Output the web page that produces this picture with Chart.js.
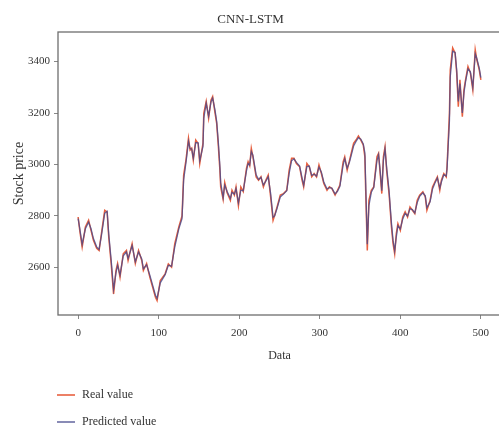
<!DOCTYPE html>
<html>
<head>
<meta charset="utf-8">
<script src="https://cdn.jsdelivr.net/npm/chart.js@4"></script>
<style>
  html, body { margin: 0; padding: 0; background: #fff; overflow: hidden; }
  #wrap { width: 503px; height: 428px; position: relative; }
</style>
</head>
<body>
<div id="wrap"><canvas id="chart"></canvas></div>
<script>
// sample positions (Data index)
const dataIndex = [0, 2, 5, 9, 13, 16, 19, 23, 26, 29, 33, 36, 38, 41, 44, 47, 49, 52, 56, 60, 62, 67, 71, 75, 79, 81, 85, 89, 96, 98,
  102, 108, 112, 116, 120, 125, 129, 131, 134, 137, 139, 141, 143, 146, 149, 151, 155, 156, 159, 162, 165, 167, 170, 172, 174, 176, 177, 180, 182, 185,
  189, 191, 194, 196, 199, 202, 205, 209, 211, 213, 215, 217, 221, 224, 227, 230, 233, 236, 239, 242, 244, 247, 251, 255, 259, 262, 265, 268, 271, 275,
  278, 280, 284, 287, 290, 293, 296, 299, 302, 305, 309, 312, 315, 319, 322, 325, 329, 331, 334, 337, 342, 345, 348, 351, 354, 356, 357, 359, 361, 364,
  367, 371, 373, 375, 377, 379, 381, 383, 386, 389, 391, 393, 395, 397, 400, 403, 406, 409, 412, 415, 418, 421, 424, 428, 431, 433, 437, 440, 443, 446,
  449, 451, 454, 457, 458, 461, 462, 465, 468, 470, 472, 474, 477, 479, 481, 484, 487, 490, 493, 495, 498, 500];

const realValue = [2796, 2744, 2679, 2757, 2783, 2744, 2705, 2674, 2666, 2733, 2822, 2816, 2718, 2615, 2497, 2588, 2615, 2562, 2653, 2666, 2627, 2692, 2615, 2666, 2627, 2588, 2615, 2562, 2484, 2471,
  2549, 2575, 2614, 2601, 2692, 2757, 2800, 2959, 3020, 3102, 3056, 3063, 3017, 3095, 3082, 3004, 3082, 3199, 3245, 3180, 3251, 3264, 3200, 3160, 3075, 2978, 2913, 2865, 2930, 2890,
  2861, 2900, 2881, 2913, 2840, 2913, 2895, 2985, 3011, 2995, 3063, 3030, 2952, 2939, 2952, 2913, 2939, 2959, 2874, 2783, 2803, 2835, 2881, 2887, 2900, 2978, 3024, 3024, 3004, 2991,
  2939, 2913, 3004, 2991, 2952, 2965, 2952, 2998, 2965, 2926, 2900, 2913, 2907, 2881, 2900, 2920, 3010, 3030, 2978, 3017, 3082, 3095, 3111, 3095, 3076, 3030, 2900, 2666, 2861, 2900,
  2913, 3030, 3043, 2965, 2887, 3030, 3069, 2978, 2887, 2757, 2692, 2653, 2731, 2770, 2744, 2796, 2816, 2796, 2835, 2822, 2809, 2861, 2881, 2894, 2874, 2822, 2861, 2913, 2933, 2952,
  2900, 2939, 2965, 2952, 2991, 3199, 3368, 3453, 3434, 3356, 3225, 3329, 3186, 3290, 3329, 3381, 3356, 3290, 3446, 3407, 3368, 3329];

const predictedValue = [2790, 2752, 2690, 2750, 2776, 2750, 2712, 2680, 2670, 2725, 2810, 2818, 2730, 2630, 2515, 2580, 2608, 2570, 2645, 2660, 2635, 2685, 2622, 2660, 2633, 2595, 2610, 2570, 2492, 2480,
  2540, 2572, 2608, 2605, 2680, 2750, 2790, 2940, 3010, 3090, 3062, 3060, 3025, 3085, 3084, 3015, 3070, 3180, 3238, 3188, 3244, 3258, 3210, 3168, 3090, 2995, 2930, 2872, 2920, 2895,
  2868, 2892, 2885, 2906, 2852, 2900, 2898, 2975, 3004, 2998, 3050, 3036, 2960, 2942, 2950, 2920, 2935, 2952, 2888, 2795, 2800, 2830, 2874, 2885, 2898, 2965, 3015, 3022, 3008, 2994,
  2948, 2920, 2992, 2994, 2958, 2962, 2955, 2990, 2970, 2932, 2905, 2910, 2908, 2886, 2896, 2915, 2998, 3022, 2986, 3010, 3072, 3090, 3104, 3098, 3080, 3045, 2930, 2690, 2840, 2892,
  2910, 3015, 3038, 2975, 2898, 3015, 3060, 2990, 2900, 2772, 2705, 2665, 2718, 2762, 2750, 2788, 2810, 2800, 2828, 2825, 2812, 2852, 2876, 2890, 2878, 2832, 2855, 2905, 2928, 2948,
  2908, 2932, 2960, 2955, 2982, 3170, 3340, 3440, 3436, 3368, 3245, 3315, 3200, 3278, 3322, 3372, 3360, 3300, 3430, 3412, 3375, 3338];

const xTicks = [0, 100, 200, 300, 400, 500];
const yTicks = [2600, 2800, 3000, 3200, 3400];

const seriesNames = ['Real value', 'Predicted value'];
const seriesColors = ['#e8603f', 'rgba(70,72,140,0.8)'];

const serif = "'Liberation Serif', 'DejaVu Serif', serif";
const textColor = '#333';

// frame around the plot area
const framePlugin = {
  id: 'frame',
  afterDatasetsDraw(chart) {
    const { ctx, chartArea: a } = chart;
    ctx.save();
    ctx.strokeStyle = '#6e6e6e';
    ctx.lineWidth = 1.3;
    ctx.strokeRect(a.left, a.top, a.right - a.left, a.bottom - a.top);
    ctx.restore();
  }
};

// legend stacked under the x axis, like the original figure
const stackedLegend = {
  id: 'stackedLegend',
  afterDraw(chart) {
    const ctx = chart.ctx;
    const rows = [395, 422];
    ctx.save();
    ctx.font = '12px ' + serif;
    ctx.textBaseline = 'middle';
    chart.data.datasets.forEach((ds, i) => {
      const y = rows[i];
      ctx.strokeStyle = ds.borderColor;
      ctx.lineWidth = 1.6;
      ctx.beginPath();
      ctx.moveTo(57, y);
      ctx.lineTo(75, y);
      ctx.stroke();
      ctx.fillStyle = textColor;
      ctx.fillText(ds.label, 82, y);
    });
    ctx.restore();
  }
};

new Chart(document.getElementById('chart'), {
  type: 'line',
  data: {
    datasets: [
      {
        label: seriesNames[0],
        data: dataIndex.map((x, i) => ({ x: x, y: realValue[i] })),
        borderColor: seriesColors[0],
        borderWidth: 1.5,
        pointRadius: 0,
        tension: 0,
        order: 2
      },
      {
        label: seriesNames[1],
        data: dataIndex.map((x, i) => ({ x: x, y: predictedValue[i] })),
        borderColor: seriesColors[1],
        borderWidth: 1.3,
        pointRadius: 0,
        tension: 0,
        order: 1
      }
    ]
  },
  options: {
    responsive: true,
    maintainAspectRatio: false,
    animation: false,
    layout: { padding: { left: 0, right: 2, top: 0, bottom: 63 } },
    plugins: {
      legend: { display: false },
      tooltip: { enabled: false },
      title: {
        display: true,
        text: 'CNN-LSTM',
        color: textColor,
        font: { family: serif, size: 13, weight: 'normal', lineHeight: 1.2 },
        padding: { top: 12, bottom: 4.4 }
      }
    },
    scales: {
      x: {
        type: 'linear',
        min: -25,
        max: 525,
        afterBuildTicks: s => { s.ticks = xTicks.map(v => ({ value: v })); },
        afterFit: s => { s.height = 50; },
        grid: { drawOnChartArea: false, drawTicks: true, tickLength: 4, color: '#888' },
        border: { display: false },
        ticks: { color: textColor, padding: 8, maxRotation: 0, font: { family: serif, size: 11 }, callback: v => String(v) },
        title: {
          display: true,
          text: 'Data',
          color: textColor,
          font: { family: serif, size: 12, lineHeight: 1.2 },
          padding: { top: 0, bottom: 2 }
        }
      },
      y: {
        min: 2415,
        max: 3515,
        afterBuildTicks: s => { s.ticks = yTicks.map(v => ({ value: v })); },
        afterFit: s => { s.width = 58; },
        grid: { drawOnChartArea: false, drawTicks: true, tickLength: 4, color: '#888' },
        border: { display: false },
        ticks: { color: textColor, padding: 4, font: { family: serif, size: 11 }, callback: v => String(v) },
        title: {
          display: true,
          text: 'Stock price',
          color: textColor,
          font: { family: serif, size: 14, lineHeight: 1.2 },
          padding: { top: 11, bottom: 0 }
        }
      }
    }
  },
  plugins: [framePlugin, stackedLegend]
});
</script>
</body>
</html>
